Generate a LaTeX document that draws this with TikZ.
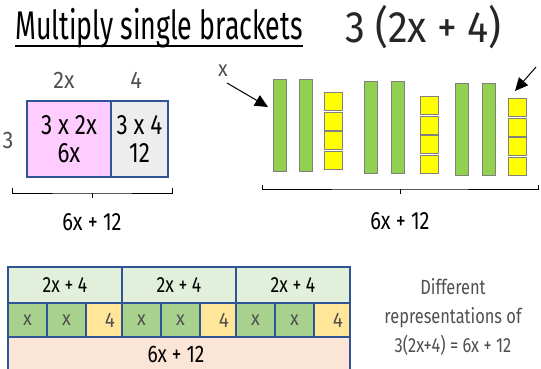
\documentclass[tikz,border=0pt]{standalone}
\usepackage{fontspec}
\setmainfont{Fira Sans}
\newfontfamily\handt[FakeStretch=0.67]{Fira Sans}
\newfontfamily\hand[FakeStretch=0.8]{Fira Sans}
\newfontfamily\handw[FakeStretch=0.9]{Fira Sans}
\usetikzlibrary{arrows.meta}
\definecolor{bblue}{HTML}{2F5597}
\definecolor{pinkc}{HTML}{FFCCFF}
\definecolor{grayc}{HTML}{EDEDED}
\definecolor{barg}{HTML}{92D050}
\definecolor{sqy}{HTML}{FFFF00}
\definecolor{lgreen}{HTML}{E2EFDA}
\definecolor{mgreen}{HTML}{A9D18E}
\definecolor{lyel}{HTML}{FFE699}
\definecolor{peach}{HTML}{FBE5D6}
\definecolor{txtg}{HTML}{505050}
\tikzset{
  cell/.style={draw=bblue, line width=1.6pt, inner sep=0pt, outer sep=0pt, anchor=north west},
  bar/.style={draw=gray, fill=barg, line width=0.9pt, inner sep=0pt, anchor=north west, minimum width=13, minimum height=92},
  sq/.style={draw=gray, fill=sqy, line width=0.9pt, inner sep=0pt, anchor=north west, minimum width=18, minimum height=18},
  brace/.style={line width=1pt, black},
  pt/.style={-{Triangle[length=13pt,width=12pt]}, line width=1pt},
  big/.style={font=\hand\fontsize{28}{28}\selectfont, align=center},
  mid/.style={font=\hand\fontsize{25}{28}\selectfont},
  lab/.style={font=\handw\fontsize{24}{26}\selectfont, text=txtg},
  toprow/.style={cell, fill=lgreen, minimum width=114, minimum height=36, font=\hand\fontsize{22}{24}\selectfont},
  xcell/.style={cell, fill=mgreen, minimum width=39, minimum height=34, font=\handw\fontsize{20}{22}\selectfont, text=txtg},
  fcell/.style={cell, fill=lyel, minimum width=36, minimum height=34, font=\handw\fontsize{21}{24}\selectfont, text=txtg},
}
\begin{document}
\begin{tikzpicture}[x=1pt,y=-1pt]
\useasboundingbox (0,0) rectangle (541,369);
\fill[white] (0,0) rectangle (541,369);
% title
\node[anchor=base west, inner sep=0pt, font=\handt\fontsize{40}{40}\selectfont] (title) at (15,40) {Multiply single brackets};
\draw[line width=1.6pt] ([yshift=-6pt]title.base west) -- ([yshift=-6pt]title.base east);
\node[anchor=base west, inner sep=0pt, font=\handw\fontsize{44}{44}\selectfont, text=black!85] (expr) at (345,43) {3 (2x + 4)};
% area model
\node[cell, fill=pinkc, minimum width=84, minimum height=76] (pink) at (27,101) {};
\node[cell, fill=grayc, minimum width=57, minimum height=76] (gray) at (111,101) {};
\node[big] (ptext) at (pink.center) {3 x 2x\\6x};
\node[big] (gtext) at (gray.center) {3 x 4\\12};
\node[lab] (l2x) at (64,80) {2x};
\node[lab] (l4) at (136,80) {4};
\node[lab] (l3) at (8,140) {3};
\coordinate (bl1) at (12,188);
\coordinate (bl2) at (172,188);
\coordinate (bm) at (92,193);
\draw[brace] (bl1) |- (bm) -| (bl2);
\draw[brace] (bm) -- ++(0,5);
\node[mid] (res1) at (92,222) {6x + 12};
% tiles
\node[bar] (g1) at (273,79) {};
\node[bar] (g2) at (299,79) {};
\foreach \i in {0,1,2,3} \node[sq] (y1\i) at (324,92+\i*19.5) {};
\node[bar] (g3) at (364,81) {};
\node[bar] (g4) at (391,81) {};
\foreach \i in {0,1,2,3} \node[sq] (y2\i) at (420,96+\i*19.5) {};
\node[bar] (g5) at (455,83) {};
\node[bar] (g6) at (482,83) {};
\foreach \i in {0,1,2,3} \node[sq] (y3\i) at (508,98+\i*19.5) {};
\node[font=\handw\fontsize{22}{24}\selectfont, text=txtg] (xl) at (223,71) {x};
\coordinate (a1s) at (227,83);
\coordinate (a1e) at (268,107);
\draw[pt] (a1s) -- (a1e);
\coordinate (a2s) at (536,67);
\coordinate (a2e) at (515,91);
\draw[pt] (a2s) -- (a2e);
\coordinate (br1) at (262,185);
\coordinate (br2) at (538,185);
\coordinate (brm) at (400,189);
\draw[brace] (br1) |- (brm) -| (br2);
\draw[brace] (brm) -- ++(0,5);
\node[mid] (res2) at (400,221) {6x + 12};
% bar model
\node[toprow] (t1) at (8,267) {2x + 4};
\node[toprow] (t2) at (122,267) {2x + 4};
\node[toprow] (t3) at (236,267) {2x + 4};
\foreach \k/\x in {0/8,1/122,2/236} {
  \node[xcell] (m\k a) at (\x,303) {x};
  \node[xcell] (m\k b) at (\x+39,303) {x};
  \node[fcell] (m\k c) at (\x+78,303) {\hspace*{12pt}4};
}
\node[cell, fill=peach, minimum width=342, minimum height=40] (bot) at (8,337) {};
\node[font=\hand\fontsize{24}{26}\selectfont] (res3) at (176,354) {6x + 12};
% caption
\node[font=\hand\fontsize{20.5}{29}\selectfont, text=txtg, align=center] (cap) at (453,317) {Different\\representations of\\3(2x+4) = 6x + 12};
\end{tikzpicture}
\end{document}
